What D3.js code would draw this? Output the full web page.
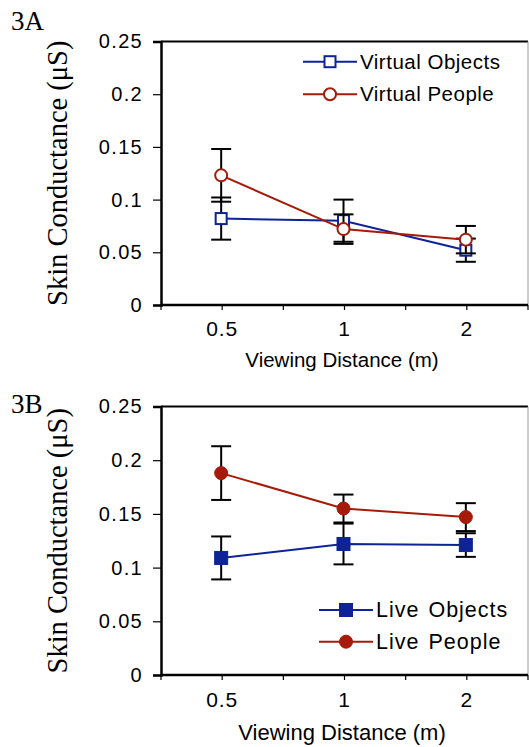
<!DOCTYPE html>
<html>
<head>
<meta charset="utf-8">
<script src="https://cdn.jsdelivr.net/npm/d3@7"></script>
<style>
  body { margin: 0; background: #fff; }
  svg { display: block; }
  .sans { font-family: "Liberation Sans", Arial, Helvetica, sans-serif; }
  .serif { font-family: "Liberation Serif", "Times New Roman", serif; }
</style>
</head>
<body>
<svg width="529" height="747"></svg>
<script>
const distances = ["0.5", "1", "2"];
const yTicks = [0, 0.05, 0.1, 0.15, 0.2, 0.25];

// 3A
const virtualObjects = [0.082, 0.080, 0.052];
const virtualObjectsErr = [0.020, 0.020, 0.011];
const virtualPeople = [0.123, 0.072, 0.062];
const virtualPeopleErr = [0.025, 0.014, 0.013];

// 3B
const liveObjects = [0.109, 0.122, 0.121];
const liveObjectsErr = [0.020, 0.019, 0.011];
const livePeople = [0.188, 0.155, 0.147];
const livePeopleErr = [0.025, 0.013, 0.013];

const blue = "#0d2396";
const red = "#a61a0a";

const svg = d3.select("svg");

function drawPanel(opt) {
    const g = svg.append("g");
    const x = d3.scaleBand().domain(distances).range([161, 528]);
    const y = d3.scaleLinear().domain([0, 0.25]).range([opt.bottom, opt.top]);
    const cx = d => x(d) + x.bandwidth() / 2 - 1;

    // frame: top line and right edge
    g.append("line").attr("x1", 161).attr("x2", 528)
        .attr("y1", opt.top).attr("y2", opt.top)
        .attr("stroke", "#000").attr("stroke-width", 2);
    g.append("line").attr("x1", 528).attr("x2", 528)
        .attr("y1", opt.top).attr("y2", opt.bottom)
        .attr("stroke", "#999").attr("stroke-width", 1);

    // y axis
    const ya = g.append("g").attr("transform", "translate(161,0)")
        .call(d3.axisLeft(y).tickValues(yTicks).tickSize(8).tickPadding(10)
            .tickFormat(d => String(+d.toFixed(2))));
    ya.select(".domain").attr("stroke-width", 2.5);
    ya.selectAll(".tick line").attr("stroke-width", 1.2);
    ya.selectAll("text").attr("class", "sans").attr("font-size", 20)
        .attr("letter-spacing", "1.3px").attr("fill", "#000");

    // x axis, ticks at centres and band edges
    const xa = g.append("g").attr("transform", `translate(0,${opt.bottom})`)
        .call(d3.axisBottom(x).tickSize(5).tickPadding(opt.xPad));
    xa.select(".domain").attr("d", `M161,0H528`).attr("stroke-width", 2.5);
    xa.selectAll(".tick line").attr("stroke-width", 1.2);
    xa.selectAll("text").attr("class", "sans").attr("font-size", 21)
        .attr("letter-spacing", "0.8px").attr("fill", "#000");
    xa.selectAll(".edge").data(d3.range(distances.length + 1)).enter()
        .append("line").attr("class", "edge")
        .attr("x1", i => 161 + i * x.step()).attr("x2", i => 161 + i * x.step())
        .attr("y1", 0).attr("y2", 5)
        .attr("stroke", "#000").attr("stroke-width", 1.2);

    // titles
    g.append("text").attr("class", "sans")
        .attr("x", 342).attr("y", opt.xTitleY)
        .attr("text-anchor", "middle").attr("font-size", opt.xTitleSize)
        .text("Viewing Distance (m)");
    g.append("text").attr("class", "serif")
        .attr("transform", `translate(67,${(opt.top + opt.bottom) / 2}) rotate(-90)`)
        .attr("text-anchor", "middle").attr("font-size", 28.5)
        .text("Skin Conductance (\u03bcS)");
    g.append("text").attr("class", "serif")
        .attr("x", 11).attr("y", opt.labelY).attr("font-size", 27)
        .text(opt.label);

    opt.series.forEach(s => {
        const pts = distances.map((d, i) => ({ d: d, v: s.values[i], e: s.err[i] }));
        const line = d3.line().x(p => cx(p.d)).y(p => y(p.v));
        s.g = g.append("g");
        s.g.append("path").datum(pts).attr("d", line)
            .attr("fill", "none").attr("stroke", s.color).attr("stroke-width", 2);
        s.pts = pts;
    });

    // error bars
    opt.series.forEach(s => {
        const eb = s.g.selectAll(".eb").data(s.pts).enter().append("g")
            .attr("stroke", "#000").attr("stroke-width", 2);
        eb.append("line").attr("x1", p => cx(p.d)).attr("x2", p => cx(p.d))
            .attr("y1", p => y(p.v - p.e)).attr("y2", p => y(p.v + p.e));
        eb.append("line").attr("x1", p => cx(p.d) - 10).attr("x2", p => cx(p.d) + 10)
            .attr("y1", p => y(p.v + p.e)).attr("y2", p => y(p.v + p.e));
        eb.append("line").attr("x1", p => cx(p.d) - 10).attr("x2", p => cx(p.d) + 10)
            .attr("y1", p => y(p.v - p.e)).attr("y2", p => y(p.v - p.e));
    });

    function marker(sel, s, px, py) {
        if (s.shape === "square") {
            const w = s.filled ? 13 : 11;
            sel.append("rect").attr("x", px - w / 2).attr("y", py - w / 2)
                .attr("width", w).attr("height", w)
                .attr("fill", s.filled ? s.color : "#fff")
                .attr("stroke", s.color).attr("stroke-width", s.filled ? 1 : 2);
        } else {
            sel.append("circle").attr("cx", px).attr("cy", py)
                .attr("r", s.filled ? 6.5 : 6)
                .attr("fill", s.filled ? s.color : "#fff")
                .attr("stroke", s.color).attr("stroke-width", s.filled ? 1 : 2);
        }
    }

    opt.series.forEach(s => {
        s.pts.forEach(p => marker(s.g, s, cx(p.d), y(p.v)));
    });

    // legend
    opt.series.forEach((s, i) => {
        const ly = opt.legend.y + i * opt.legend.dy;
        const lg = g.append("g");
        lg.append("line").attr("x1", opt.legend.x).attr("x2", opt.legend.x + 54)
            .attr("y1", ly).attr("y2", ly)
            .attr("stroke", s.color).attr("stroke-width", 2);
        marker(lg, s, opt.legend.x + 27, ly);
        lg.append("text").attr("class", "sans")
            .attr("x", opt.legend.x + 57).attr("y", ly + 7)
            .attr("font-size", opt.legend.size)
            .attr("letter-spacing", opt.legend.spacing)
            .attr("word-spacing", opt.legend.wordSpacing)
            .text(s.name);
    });
}

drawPanel({
    top: 41.5, bottom: 305, label: "3A", labelY: 30,
    xPad: 11, xTitleY: 367, xTitleSize: 20.5,
    legend: { x: 303, y: 61.7, dy: 32.5, size: 20.5, spacing: "0.5px", wordSpacing: "0px" },
    series: [
        { name: "Virtual Objects", values: virtualObjects, err: virtualObjectsErr,
          color: blue, shape: "square", filled: false },
        { name: "Virtual People", values: virtualPeople, err: virtualPeopleErr,
          color: red, shape: "circle", filled: false }
    ]
});

drawPanel({
    top: 406.5, bottom: 675, label: "3B", labelY: 413,
    xPad: 12, xTitleY: 740, xTitleSize: 22,
    legend: { x: 319, y: 610, dy: 31.7, size: 21.5, spacing: "1px", wordSpacing: "2px" },
    series: [
        { name: "Live Objects", values: liveObjects, err: liveObjectsErr,
          color: blue, shape: "square", filled: true },
        { name: "Live People", values: livePeople, err: livePeopleErr,
          color: red, shape: "circle", filled: true }
    ]
});
</script>
</body>
</html>
